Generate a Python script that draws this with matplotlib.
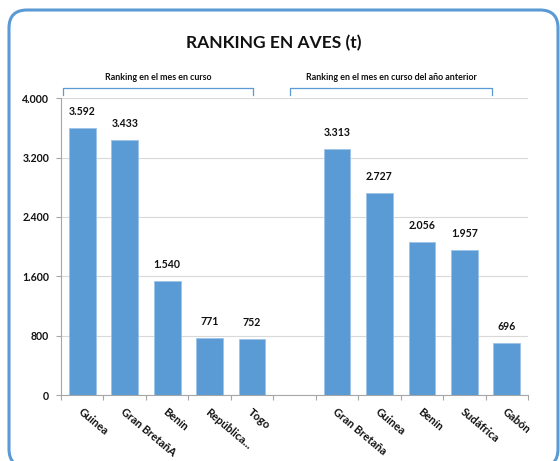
import matplotlib
matplotlib.use("Agg")
import matplotlib.pyplot as plt
from matplotlib.patches import FancyBboxPatch
from matplotlib.lines import Line2D

title = "RANKING EN AVES (t)"
group1_label = "Ranking en el mes en curso"
group2_label = "Ranking en el mes en curso del año anterior"
cats_current = ["Guinea", "Gran BretañA", "Benín", "República...", "Togo"]
vals_current = [3592, 3433, 1540, 771, 752]
cats_prev = ["Gran Bretaña", "Guinea", "Benín", "Sudáfrica", "Gabón"]
vals_prev = [3313, 2727, 2056, 1957, 696]
yticks = [0, 800, 1600, 2400, 3200, 4000]

plt.rcParams['font.family'] = ['Lato', 'DejaVu Sans']
BLUE = "#5B9BD5"
W = "bold"

fig = plt.figure(figsize=(5.6, 4.61), dpi=100)
ax = fig.add_axes([0.109, 0.143, 0.834, 0.644])

labels = cats_current + [""] + cats_prev
values = vals_current + [None] + vals_prev
xs = list(range(len(labels)))
for x, v in zip(xs, values):
    if v is None:
        continue
    ax.bar(x, v, width=0.63, color=BLUE, edgecolor="#9DC3E6", linewidth=0.6, zorder=3)
    ax.annotate(f"{v:,}".replace(",", "."), (x, v), xytext=(0, 8), textcoords="offset points",
                ha="center", va="bottom", fontsize=7.6, fontweight=W, color="#111111")

ax.set_xlim(-0.5, len(labels) - 0.5)
ax.set_ylim(0, 4000)
ax.set_yticks(yticks)
ax.set_yticklabels([f"{t:,}".replace(",", ".") for t in yticks], fontsize=7.6, fontweight=W,
                   color="#111111")
ax.yaxis.grid(True, color="#D9D9D9", linewidth=0.8, zorder=0)
ax.set_axisbelow(True)
for s in ["top", "right"]:
    ax.spines[s].set_visible(False)
for s in ["left", "bottom"]:
    ax.spines[s].set_color("#A6A6A6")
    ax.spines[s].set_linewidth(0.8)
ax.tick_params(axis="y", length=3.5, color="#A6A6A6", pad=5)
ax.set_xticks([x - 0.5 for x in range(len(labels) + 1)])
ax.set_xticklabels([])
ax.tick_params(axis="x", length=3.5, color="#A6A6A6", direction="out")

for x, lab in zip(xs, labels):
    if not lab:
        continue
    ax.text(x + 0.02, -150, lab, rotation=-40, rotation_mode="anchor", ha="left", va="top",
            fontsize=8, fontweight=W, color="#111111")

# brackets
def bracket(x0, x1, label):
    y_top, y_bot = 1.034, 1.010
    ax.add_line(Line2D([x0, x0, x1, x1], [y_bot, y_top, y_top, y_bot], transform=ax.transAxes,
                       color=BLUE, linewidth=0.9, clip_on=False))
    ax.text((x0 + x1) / 2, 1.07, label, transform=ax.transAxes, ha="center", va="center",
            fontsize=6.4, fontweight=W, color="#111111")

bracket(0.004, 0.411, group1_label)
bracket(0.490, 0.923, group2_label)

fig.text(0.488, 0.907, title, ha="center", va="center", fontsize=12.5, fontweight=W, color="#111111")

frame = FancyBboxPatch((0.09, -0.06), 5.49, 4.57, boxstyle="round,pad=0,rounding_size=0.18",
                       transform=fig.dpi_scale_trans, facecolor="none", edgecolor=BLUE,
                       linewidth=2.2, clip_on=False)
fig.patches.append(frame)

fig.savefig("out.png", dpi=100)
